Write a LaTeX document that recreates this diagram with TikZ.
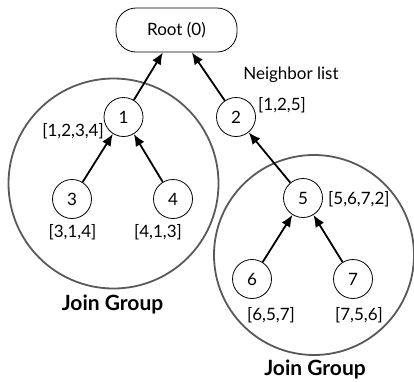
\documentclass[tikz,border=0pt]{standalone}
\usepackage{fontspec}
\setmainfont{Lato}
\usetikzlibrary{arrows.meta}
\begin{document}
\begin{tikzpicture}[>={Latex[length=12pt,width=10pt]},x=1pt,y=-1pt,font=\fontsize{17}{19}\selectfont]
\tikzset{nut/.style={draw,circle,minimum size=39pt,inner sep=0pt,line width=0.8pt},
	cung/.style={->,line width=1.8pt},
	nhom/.style={line width=1.8pt,black!65}}
\def\rA{105} % bán kính nhóm trái
\def\rB{100} % bán kính nhóm phải
\useasboundingbox (0,0) rectangle (414,381);
\draw[nhom] (113.5,183.5) circle (\rA); % nhóm trái
\draw[nhom] (314,255) circle (\rB); % nhóm phải
\node[draw,rounded corners=20pt,minimum width=121pt,minimum height=44pt,line width=0.8pt] (R) at (176.5,30) {Root (0)};
\node[nut] (n1) at (123.5,117) {1};
\node[nut] (n2) at (236,117) {2};
\node[nut] (n3) at (72,199) {3};
\node[nut] (n4) at (173,199) {4};
\node[nut] (n5) at (303,198) {5};
\node[nut] (n6) at (252,279) {6};
\node[nut] (n7) at (353,279) {7};
\draw[cung] (n1)--(R);
\draw[cung] (n2)--(R);
\draw[cung] (n3)--(n1);
\draw[cung] (n4)--(n1);
\draw[cung] (n5)--(n2);
\draw[cung] (n6)--(n5);
\draw[cung] (n7)--(n5);
% danh sách láng giềng
\node (nl) at (291,75) {Neighbor list};
\node[anchor=west,inner sep=1pt] (l2) at (257,105) {[1,2,5]};
\node[anchor=east,inner sep=1pt] (l1) at (105,131) {[1,2,3,4]};
\node (l3) at (72.5,232) {[3,1,4]};
\node (l4) at (158,232) {[4,1,3]};
\node[anchor=west,inner sep=1pt] (l5) at (327,199) {[5,6,7,2]};
\node (l6) at (271,315) {[6,5,7]};
\node (l7) at (359,315) {[7,5,6]};
\node[font=\fontsize{21}{23}\selectfont\bfseries] (g1) at (112.5,304) {Join Group};
\node[font=\fontsize{21}{23}\selectfont\bfseries] (g2) at (315,369) {Join Group};
\end{tikzpicture}
\end{document}
